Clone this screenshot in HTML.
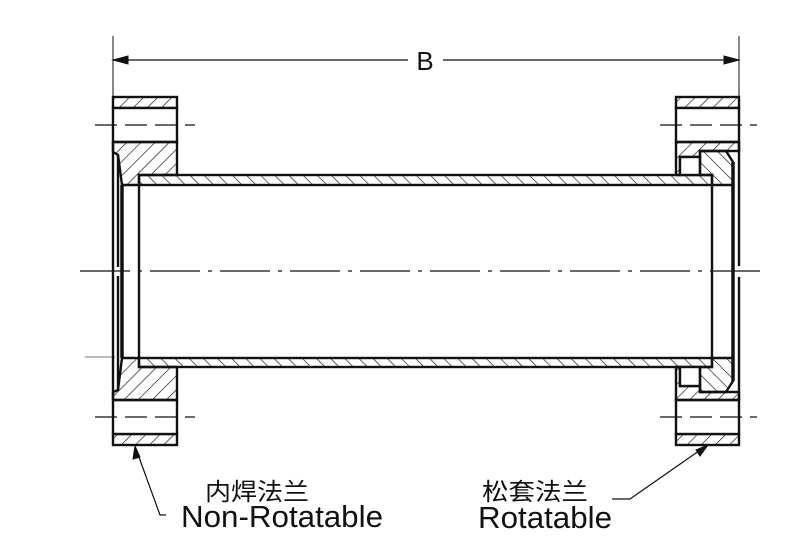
<!DOCTYPE html>
<html><head><meta charset="utf-8"><style>
html,body{margin:0;padding:0;background:#fff;}
svg{display:block;}
text{font-family:"Liberation Sans","Noto Sans CJK SC",sans-serif;fill:#111;}
</style></head><body>
<svg width="793" height="557" viewBox="0 0 793 557" xmlns="http://www.w3.org/2000/svg">
<defs>
<pattern id="hb" patternUnits="userSpaceOnUse" width="10" height="10" patternTransform="rotate(45)">
<line x1="0" y1="0" x2="0" y2="10" stroke="#111" stroke-width="1.3"/></pattern>
<pattern id="hf" patternUnits="userSpaceOnUse" width="10" height="10" patternTransform="rotate(-45)">
<line x1="0" y1="0" x2="0" y2="10" stroke="#111" stroke-width="1.3"/></pattern>
</defs>
<g stroke="#111" fill="none">
<line x1="113" y1="36" x2="113" y2="97" stroke-width="1"/>
<line x1="739" y1="36" x2="739" y2="97" stroke-width="1"/>
<line x1="113" y1="60" x2="408" y2="60" stroke-width="1.2"/>
<line x1="443" y1="60" x2="739" y2="60" stroke-width="1.2"/>
<polygon points="113,60 128,56 128,64" fill="#111"/>
<polygon points="739,60 724,56 724,64" fill="#111"/>
<line x1="80" y1="271" x2="765" y2="271" stroke-width="1.2" stroke-dasharray="50,8,4,8"/>
<line x1="85" y1="357" x2="115" y2="357" stroke="#777" stroke-width="1"/>

<rect x="113" y="97" width="64" height="11" fill="url(#hb)" stroke-width="2.4"/>
<rect x="113" y="108" width="64" height="34" fill="#fff" stroke-width="2.4"/>
<rect x="113" y="434" width="64" height="11" fill="url(#hb)" stroke-width="2.4"/>
<rect x="113" y="400" width="64" height="34" fill="#fff" stroke-width="2.4"/>
<polygon points="113,142 177,142 177,175 139,175 139,185 122,185 118,155 113,152" fill="url(#hb)" stroke-width="2.4"/>
<polygon points="113,400 177,400 177,367 139,367 139,358 122,358 118,390 113,392" fill="url(#hb)" stroke-width="2.4"/>
<line x1="113" y1="142" x2="113" y2="400" stroke-width="2.4"/>
<polyline points="118,155 118,267" stroke-width="2.4"/>
<polyline points="118,276 118,390" stroke-width="2.4"/>
<line x1="122" y1="185" x2="122" y2="358" stroke-width="3.5"/>
<rect x="139" y="175" width="573" height="10" fill="url(#hf)" stroke-width="2.4"/>
<rect x="139" y="358" width="573" height="9" fill="url(#hf)" stroke-width="2.4"/>
<line x1="139" y1="185" x2="139" y2="358" stroke-width="2.4"/>
<line x1="712" y1="185" x2="712" y2="358" stroke-width="2.4"/>

<rect x="676" y="97" width="63" height="11" fill="url(#hb)" stroke-width="2.4"/>
<rect x="676" y="108" width="63" height="34" fill="#fff" stroke-width="2.4"/>
<rect x="676" y="434" width="63" height="11" fill="url(#hb)" stroke-width="2.4"/>
<rect x="676" y="400" width="63" height="34" fill="#fff" stroke-width="2.4"/>
<polygon points="676,142 739,142 739,151 700,151 700,157 680,157 680,175 676,175" fill="url(#hb)" stroke-width="2.4"/>
<polygon points="676,400 739,400 739,392 700,392 700,386 680,386 680,367 676,367" fill="url(#hb)" stroke-width="2.4"/>
<rect x="680" y="157" width="20" height="18" fill="#fff" stroke-width="2.4"/>
<rect x="680" y="367" width="20" height="19" fill="#fff" stroke-width="2.4"/>
<polygon points="700,151 726,151 733,162 733,185 712,185 712,175 700,175" fill="url(#hf)" stroke-width="2.4"/>
<polygon points="700,392 726,392 733,381 733,358 712,358 712,367 700,367" fill="url(#hf)" stroke-width="2.4"/>
<line x1="733" y1="162" x2="733" y2="381" stroke-width="3.5"/>
<line x1="739" y1="142" x2="739" y2="266" stroke-width="2.4"/>
<line x1="739" y1="277" x2="739" y2="400" stroke-width="2.4"/>
<line x1="95" y1="125" x2="195" y2="125" stroke-width="1.2" stroke-dasharray="22,8"/>
<line x1="95" y1="417" x2="195" y2="417" stroke-width="1.2" stroke-dasharray="22,8"/>
<line x1="660" y1="125" x2="757" y2="125" stroke-width="1.2" stroke-dasharray="22,8"/>
<line x1="660" y1="417" x2="757" y2="417" stroke-width="1.2" stroke-dasharray="22,8"/>

<polyline points="136,449 160,515 166,515" stroke-width="1.2"/>
<polygon points="135,446 133,459 140,457" fill="#111"/>
<polyline points="612,499 630,499 706,446" stroke-width="1.2"/>
<polygon points="708,445 696,450 700,456" fill="#111"/>
</g>
<text x="425" y="70" font-size="26" text-anchor="middle">B</text>
<text x="205" y="500" font-size="24" textLength="104" lengthAdjust="spacingAndGlyphs">内焊法兰</text>
<text x="181" y="527" font-size="31" textLength="202" lengthAdjust="spacingAndGlyphs">Non-Rotatable</text>
<text x="482" y="500" font-size="24" textLength="106" lengthAdjust="spacingAndGlyphs">松套法兰</text>
<text x="478" y="528" font-size="31" textLength="134" lengthAdjust="spacingAndGlyphs">Rotatable</text>
</svg>
</body></html>
